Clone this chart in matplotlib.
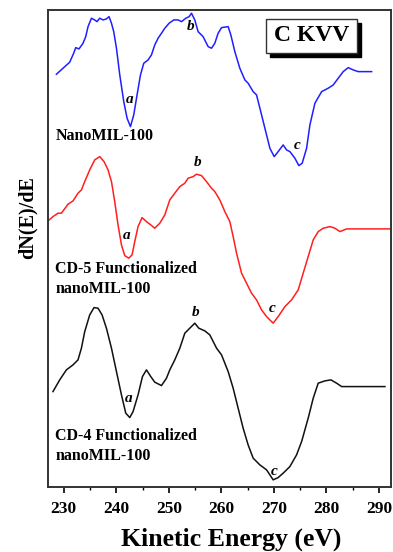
import matplotlib
matplotlib.use("Agg")
import matplotlib.pyplot as plt
from matplotlib.patches import Rectangle
from matplotlib.ticker import MultipleLocator

# ---- data (kinetic energy in eV, dN(E)/dE in arbitrary units, relative to the flat tail) ----
nano_energy = [228.61, 229.87, 231.14, 231.90, 232.29, 232.91, 233.68, 234.19, 234.63, 235.28,
               235.90, 236.34, 236.86, 237.49, 238.13, 238.63, 239.09, 239.52, 240.04, 240.67,
               241.43, 242.06, 242.70, 243.33, 243.96, 244.61, 245.24, 246.06, 246.70, 247.33,
               247.96, 248.61, 249.24, 250.06, 250.95, 251.77, 252.42, 253.24, 253.87, 254.32,
               254.95, 255.58, 256.53, 257.49, 258.13, 258.76, 259.39, 260.04, 261.30, 261.81,
               262.57, 263.52, 264.48, 265.10, 266.06, 266.70, 267.66, 268.61, 269.24, 270.06,
               270.82, 271.77, 272.42, 273.05, 274.00, 274.76, 275.39, 276.23, 276.86, 277.81,
               279.09, 280.34, 281.30, 282.25, 283.20, 284.15, 285.10, 286.06, 288.61]
nano_signal = [-2.6, 3.4, 9.4, 18.4, 24.0, 22.7, 28.4, 35.0, 45.0, 53.4,
               51.7, 50.0, 53.4, 51.7, 52.7, 55.0, 48.4, 40.0, 23.4, -3.3,
               -30.0, -46.6, -55.0, -43.3, -23.3, -3.3, 8.4, 11.7, 16.7, 26.7,
               33.4, 38.4, 43.4, 48.4, 51.7, 51.7, 50.0, 53.4, 55.0, 58.4,
               51.7, 40.0, 35.0, 25.0, 23.4, 28.4, 38.4, 44.0, 45.0, 36.7,
               20.0, 3.4, -8.3, -11.6, -20.0, -23.3, -43.3, -63.3, -76.6, -85.0,
               -80.0, -73.3, -78.3, -80.0, -86.6, -94.0, -91.6, -76.6, -53.3, -31.6,
               -20.0, -16.6, -13.3, -6.6, 0.0, 4.0, 1.7, 0.0, 0.0]

cd5_energy = [227.01, 227.96, 228.91, 229.56, 230.82, 231.77, 232.72, 233.37, 234.00, 234.95,
              235.90, 236.86, 237.68, 238.44, 239.09, 239.71, 240.34, 240.99, 241.62, 242.38,
              243.01, 243.52, 244.15, 244.91, 245.75, 246.57, 247.33, 248.29, 249.24, 250.19,
              251.14, 252.10, 253.05, 253.68, 254.63, 255.28, 256.23, 257.18, 258.13, 258.76,
              259.71, 260.67, 261.62, 262.25, 262.90, 263.85, 264.80, 265.75, 266.70, 267.66,
              268.61, 269.87, 270.82, 272.10, 273.37, 274.63, 275.58, 276.53, 277.49, 278.44,
              279.39, 280.67, 281.62, 282.57, 283.85, 292.38]
cd5_signal = [8.0, 12.3, 15.7, 15.7, 24.7, 28.0, 35.7, 39.0, 47.3, 59.0,
              69.0, 72.3, 67.3, 59.0, 47.3, 27.3, 4.0, -16.0, -26.7, -29.3,
              -26.0, -12.7, 2.3, 11.3, 7.3, 4.0, 0.7, 5.7, 14.0, 29.0,
              35.7, 42.3, 45.7, 50.7, 52.3, 54.7, 53.3, 47.3, 40.7, 37.3,
              29.0, 17.3, 7.3, -7.7, -24.3, -44.3, -54.3, -64.3, -71.0, -81.0,
              -87.7, -94.3, -87.7, -77.7, -71.0, -61.0, -44.3, -27.7, -11.0, -2.7,
              0.7, 2.3, 0.7, -2.7, 0.0, 0.0]

cd4_energy = [227.96, 229.24, 230.51, 231.77, 232.72, 233.37, 234.00, 234.95, 235.77, 236.53,
              237.30, 238.13, 239.09, 240.04, 240.99, 241.81, 242.57, 243.20, 244.15, 244.99,
              245.75, 246.57, 247.33, 248.61, 249.56, 250.19, 251.14, 252.10, 253.05, 254.00,
              254.95, 255.71, 256.86, 257.81, 259.09, 260.04, 261.30, 262.25, 263.20, 264.15,
              265.10, 266.06, 267.33, 268.61, 269.87, 270.82, 271.77, 273.05, 274.32, 275.28,
              276.53, 277.49, 278.44, 279.71, 280.86, 281.94, 282.90, 283.85, 291.14]
cd4_signal = [-5.0, 6.7, 16.7, 21.7, 26.7, 38.4, 55.0, 71.7, 79.0, 78.4,
              71.7, 58.4, 38.4, 15.0, -8.3, -26.6, -31.0, -25.0, -8.3, 10.0,
              16.7, 10.0, 4.4, 1.0, 8.4, 16.7, 26.7, 38.4, 53.4, 58.4,
              63.4, 58.4, 55.7, 51.7, 38.4, 31.7, 15.0, -1.6, -21.6, -41.6,
              -58.3, -71.6, -78.3, -83.3, -93.3, -91.0, -86.6, -80.0, -68.3, -55.0,
              -31.6, -11.6, 3.4, 5.7, 6.7, 3.4, 0.0, 0.0, 0.0]

series_names = ["NanoMIL-100", "CD-5 Functionalized\nnanoMIL-100", "CD-4 Functionalized\nnanoMIL-100"]
x_ticks = [230, 240, 250, 260, 270, 280, 290]
peak_labels = ["a", "b", "c"]

# ---- layout / style ----
offsets = [415.3, 258.0, 100.3]
colors = ["#1f1fff", "#ff1f1f", "#111111"]
serif = ["Liberation Serif", "DejaVu Serif"]

fig = plt.figure(figsize=(3.93, 5.52), dpi=100)
ax = fig.add_axes([0.122, 0.118, 0.873, 0.864])

curves = [(nano_energy, nano_signal), (cd5_energy, cd5_signal), (cd4_energy, cd4_signal)]
for (e, s), off, c in zip(curves, offsets, colors):
    ax.plot(e, [v + off for v in s], color=c, lw=1.1)

ax.set_xlim(227, 292.3)
ax.set_ylim(0, 477)
ax.set_yticks([])
ax.set_xticks(x_ticks)
ax.xaxis.set_minor_locator(MultipleLocator(5))
ax.tick_params(axis="x", which="major", direction="out", length=4.5, width=1.2, pad=5.5)
ax.tick_params(axis="x", which="minor", direction="out", length=2.5, width=1.0)
for lab in ax.get_xticklabels():
    lab.set_fontfamily(serif)
    lab.set_fontweight("bold")
    lab.set_fontsize(12.5)
for sp in ax.spines.values():
    sp.set_linewidth(1.4)
    sp.set_color("#333333")

ax.set_xlabel("Kinetic Energy (eV)", fontfamily=serif, fontweight="bold", fontsize=18.5)
ax.xaxis.set_label_coords(0.535, -0.085)
ax.set_ylabel("dN(E)/dE", fontfamily=serif, fontweight="bold", fontsize=14.5)
ax.yaxis.set_label_coords(-0.03, 0.564)

# peak labels
label_pos = [
    [(242.57, 387), (254.19, 460), (274.38, 341)],
    [(242.0, 251), (255.5, 324), (269.6, 178)],
    [(242.4, 88), (255.1, 174), (270.0, 15)],
]
for row in label_pos:
    for (x, y), t in zip(row, peak_labels):
        ax.text(x, y, t, fontfamily=serif, fontstyle="italic", fontweight="bold",
                fontsize=11, ha="center", va="center")

# sample names
name_pos = [(228.4, 351), (228.4, 208), (228.4, 41)]
for (x, y), n in zip(name_pos, series_names):
    ax.text(x, y, n, fontfamily=serif, fontweight="bold", fontsize=11.5,
            ha="left", va="center", linespacing=1.3)

# C KVV box with shadow
bx0, by0, bw, bh = 0.636, 0.910, 0.265, 0.071
ax.add_patch(Rectangle((bx0 + 0.012, by0 - 0.009), bw, bh, transform=ax.transAxes,
                       fc="black", ec="black", zorder=5))
ax.add_patch(Rectangle((bx0, by0), bw, bh, transform=ax.transAxes,
                       fc="white", ec="#333333", lw=1.0, zorder=6))
ax.text(bx0 + bw / 2, by0 + bh / 2, "C KVV", transform=ax.transAxes, fontfamily=serif,
        fontweight="bold", fontsize=17, ha="center", va="center", zorder=7)

fig.savefig("out.png", dpi=100)
